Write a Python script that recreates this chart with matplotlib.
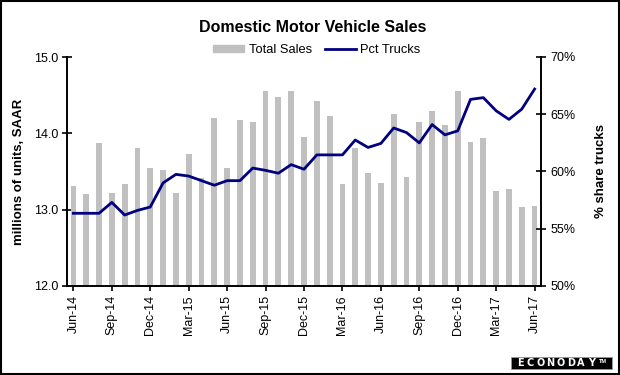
import matplotlib
matplotlib.use("Agg")
import matplotlib.pyplot as plt
from matplotlib.patches import Rectangle
from matplotlib.lines import Line2D
import numpy as np

plt.rcParams['font.family'] = ['Liberation Sans', 'DejaVu Sans']

months = ['Jun-14', 'Jul-14', 'Aug-14', 'Sep-14', 'Oct-14', 'Nov-14', 'Dec-14',
          'Jan-15', 'Feb-15', 'Mar-15', 'Apr-15', 'May-15', 'Jun-15', 'Jul-15',
          'Aug-15', 'Sep-15', 'Oct-15', 'Nov-15', 'Dec-15', 'Jan-16', 'Feb-16',
          'Mar-16', 'Apr-16', 'May-16', 'Jun-16', 'Jul-16', 'Aug-16', 'Sep-16',
          'Oct-16', 'Nov-16', 'Dec-16', 'Jan-17', 'Feb-17', 'Mar-17', 'Apr-17',
          'May-17', 'Jun-17']

total_sales = [13.31, 13.20, 13.87, 13.22, 13.33, 13.81, 13.54,
               13.52, 13.22, 13.73, 13.42, 14.20, 13.54, 14.18,
               14.15, 14.56, 14.48, 14.55, 13.95, 14.42, 14.23,
               13.33, 13.81, 13.48, 13.35, 14.25, 13.43, 14.15,
               14.29, 14.11, 14.55, 13.89, 13.94, 13.24, 13.27,
               13.03, 13.05]

pct_trucks = [56.35, 56.35, 56.35, 57.3, 56.2, 56.6, 56.9,
              59.0, 59.75, 59.6, 59.2, 58.8, 59.2, 59.2,
              60.3, 60.1, 59.85, 60.6, 60.2, 61.45, 61.45,
              61.45, 62.75, 62.1, 62.45, 63.8, 63.4, 62.5,
              64.1, 63.2, 63.55, 66.3, 66.45, 65.3, 64.55,
              65.45, 67.2]

left_ticks = [12.0, 13.0, 14.0, 15.0]
right_ticks = [50, 55, 60, 65, 70]

bar_color = '#C0C0C0'
line_color = '#000080'

fig = plt.figure(figsize=(6.2, 3.75), dpi=100)
ax = fig.add_axes([67 / 620, 1 - 286 / 375, 474 / 620, 229 / 375])
ax2 = ax.twinx()

x = np.arange(len(months))
ax.bar(x, np.array(total_sales) - 12.0, bottom=12.0, width=0.45, color=bar_color, zorder=2)
ax2.plot(x, pct_trucks, color=line_color, lw=2, zorder=3)

ax.set_xlim(-0.5, len(months) - 0.5)
ax.set_ylim(12.0, 15.0)
ax2.set_ylim(50, 70)

ax.set_yticks(left_ticks)
ax.set_yticklabels([f'{t:.1f}' for t in left_ticks], fontsize=9)
ax2.set_yticks(right_ticks)
ax2.set_yticklabels([f'{t}%' for t in right_ticks], fontsize=9)

ax.set_xticks(x[::3])
ax.set_xticklabels(months[::3], rotation=90, fontsize=9)

for a in (ax, ax2):
    a.spines['top'].set_visible(False)
    for s in ('left', 'right', 'bottom'):
        a.spines[s].set_linewidth(1.2)
    a.tick_params(direction='inout', length=7, width=1.2, pad=3)

ax.set_ylabel('millions of units, SAAR', fontsize=9.5, fontweight='bold', labelpad=6)
ax2.set_ylabel('% share trucks', fontsize=9.5, fontweight='bold', labelpad=14)

fig.text(313 / 620, 1 - 27 / 375, 'Domestic Motor Vehicle Sales', ha='center', va='center',
         fontsize=11.5, fontweight='bold')

handles = [Rectangle((0, 0), 1, 1, color=bar_color),
           Line2D([0], [0], color=line_color, lw=2)]
fig.legend(handles, ['Total Sales', 'Pct Trucks'], loc='center',
           bbox_to_anchor=(317 / 620, 1 - 50 / 375), ncol=2, frameon=False,
           fontsize=9.3, handlelength=2.4, handleheight=0.4, handletextpad=0.35,
           columnspacing=1.0)

# logo box
fig.patches.append(Rectangle((511 / 620, 1 - 369 / 375), 101 / 620, 12 / 375,
                             transform=fig.transFigure, fc='black', ec='#999999', lw=0.6))
logo = 'ECONODAY'
for i, ch in enumerate(logo):
    fig.text((520 + i * 10.2) / 620, 1 - 363.2 / 375, ch, ha='center', va='center',
             color='white', fontsize=7, fontweight='bold', family='DejaVu Sans')
fig.text(603 / 620, 1 - 361.5 / 375, 'TM', ha='center', va='center', color='white',
         fontsize=4, fontweight='bold')

# outer frame
fig.patches.append(Rectangle((0.002, 0.003), 0.996, 0.994, transform=fig.transFigure,
                             fill=False, ec='black', lw=1.5))

fig.savefig('out.png', dpi=100)
